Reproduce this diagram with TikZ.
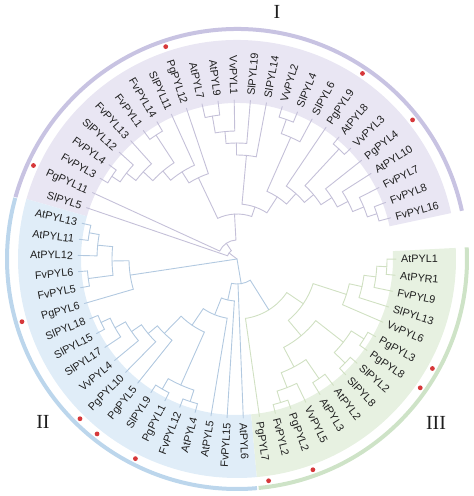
\documentclass[tikz,border=0pt]{standalone}
\usepackage{fontspec}
\setmainfont{Liberation Sans}
\newfontfamily\romanfont{Liberation Serif}
\definecolor{fillI}{RGB}{233,230,243}
\definecolor{fillII}{RGB}{224,237,248}
\definecolor{fillIII}{RGB}{231,241,225}
\definecolor{arcI}{RGB}{200,195,226}
\definecolor{arcII}{RGB}{188,214,236}
\definecolor{arcIII}{RGB}{206,227,199}
\definecolor{treeI}{RGB}{196,192,216}
\definecolor{treeII}{RGB}{178,201,224}
\definecolor{treeIII}{RGB}{208,224,194}
\definecolor{dotred}{RGB}{214,56,58}
\definecolor{labtext}{RGB}{30,30,30}
\newcommand\defnode[3]{\expandafter\xdef\csname tang#1\endcsname{#2}\expandafter\xdef\csname trad#1\endcsname{#3}}
\newcommand\mkclade[4]{%
  \edef\tka{\csname tang#3\endcsname}%
  \edef\tkb{\csname tang#4\endcsname}%
  \edef\tra{\csname trad#3\endcsname}%
  \edef\trb{\csname trad#4\endcsname}%
  \draw (\tka:\tra pt) -- (\tka:#2pt) arc[start angle=\tka,end angle=\tkb,radius=#2pt] -- (\tkb:\trb pt);%
  \pgfmathsetmacro\tkm{(\tka+\tkb)/2}%
  \defnode{#1}{\tkm}{#2}%
}
\begin{document}
\begin{tikzpicture}[x=1pt,y=1pt,
  lab/.style={inner sep=0pt,text height=7.8pt,text depth=0pt,font=\fontsize{10.8}{12}\selectfont,text=labtext},
  roman/.style={inner sep=0pt,font=\romanfont\fontsize{20}{20}\selectfont,text=labtext},
  ring/.style={line width=4pt},
  branch/.style={line width=0.9pt,line cap=round}]
\useasboundingbox (-237,-237) rectangle (237,259);
% shaded sectors
\fill[fillI] (12.1:156pt) arc[start angle=12.1,end angle=164.1,radius=156pt] -- (164.1:219pt) arc[start angle=164.1,end angle=12.1,radius=219pt] -- cycle;
\fill[fillII] (164.1:156pt) arc[start angle=164.1,end angle=275.2,radius=156pt] -- (275.2:219pt) arc[start angle=275.2,end angle=164.1,radius=219pt] -- cycle;
\fill[fillIII] (275.2:156pt) arc[start angle=275.2,end angle=362.9,radius=156pt] -- (362.9:219pt) arc[start angle=362.9,end angle=275.2,radius=219pt] -- cycle;
% outer arcs
\draw[ring,arcI] (12.1:230pt) arc[start angle=12.1,end angle=164.4,radius=230pt];
\draw[ring,arcII] (164.6:230pt) arc[start angle=164.6,end angle=275.0,radius=230pt];
\draw[ring,arcIII] (275.4:230pt) arc[start angle=275.4,end angle=362.9,radius=230pt];
% red dots
\foreach \i in {4,7,16,24,31,36,37,39,45,47,53,54}
  \fill[dotred] ({15+\i*5.847}:224pt) circle (2.4pt);
% leaves
\foreach \i in {0,...,59}{\pgfmathsetmacro\tla{15+\i*5.847}\defnode{L\i}{\tla}{159}}
% group I tree
\begin{scope}[branch,draw=treeI]
\mkclade{R1}{147}{L0}{L1}
\mkclade{R2}{137}{R1}{L2}
\mkclade{R3}{125}{R2}{L3}
\mkclade{R4}{113}{R3}{L4}
\mkclade{R5}{150}{L5}{L6}
\mkclade{R6}{100}{R4}{R5}
\mkclade{R7}{88}{R6}{L7}
\mkclade{S1}{148}{L9}{L10}
\mkclade{S2}{133}{L8}{S1}
\mkclade{R8}{74}{R7}{S2}
\mkclade{T1}{145}{L14}{L15}
\mkclade{T2}{128}{L13}{T1}
\mkclade{T3}{116}{L12}{T2}
\mkclade{T4}{104}{L11}{T3}
\mkclade{R9}{55}{R8}{T4}
\mkclade{K1}{150}{L22}{L23}
\mkclade{K2}{140}{L21}{K1}
\mkclade{K3}{128}{L20}{K2}
\mkclade{K4}{148}{L18}{L19}
\mkclade{K5}{115}{K4}{K3}
\mkclade{K6}{103}{L17}{K5}
\mkclade{K7}{90}{L16}{K6}
\mkclade{X}{45}{R9}{K7}
\mkclade{Y}{19}{X}{L24}
\mkclade{Z}{10}{Y}{L25}
\edef\tka{\csname tangZ\endcsname}
\draw (0,0) -- (\tka:10pt);
\end{scope}
% group III tree
\begin{scope}[branch,draw=treeIII]
\mkclade{G1}{150}{L58}{L59}
\mkclade{G2}{140}{L57}{G1}
\mkclade{G3}{128}{L56}{G2}
\mkclade{G4}{115}{L55}{G3}
\mkclade{G5}{150}{L53}{L54}
\mkclade{G6}{150}{L51}{L52}
\mkclade{G7}{135}{G6}{G5}
\mkclade{H1}{150}{L46}{L47}
\mkclade{H2}{138}{H1}{L48}
\mkclade{H3}{145}{L49}{L50}
\mkclade{H4}{122}{H2}{H3}
\mkclade{H5}{100}{H4}{G7}
\mkclade{H6}{80}{H5}{G4}
\mkclade{Gt}{60}{L45}{H6}
\end{scope}
% group II tree
\begin{scope}[branch,draw=treeII]
\mkclade{U1}{150}{L26}{L27}
\mkclade{U2}{140}{U1}{L28}
\mkclade{U3}{150}{L29}{L30}
\mkclade{W}{125}{U2}{U3}
\mkclade{U5}{108}{W}{L31}
\mkclade{P1}{150}{L32}{L33}
\mkclade{P2}{140}{P1}{L34}
\mkclade{P3}{128}{P2}{L35}
\mkclade{P4}{116}{P3}{L36}
\mkclade{P5}{104}{P4}{L37}
\mkclade{Q1}{150}{L38}{L39}
\mkclade{Q2}{150}{L40}{L41}
\mkclade{Q3}{138}{Q1}{Q2}
\mkclade{PP}{80}{P5}{Q3}
\mkclade{F}{60}{PP}{L42}
\mkclade{E}{42}{F}{L43}
\mkclade{D}{25}{E}{Gt}
\edef\tka{\csname tangL44\endcsname}
\draw (\tka:25pt) -- (\tka:159pt);
\edef\tka{\csname tangU5\endcsname}
\draw (0,0) -- (\tka:108pt);
\edef\tka{\csname tangD\endcsname}
\draw (0,0) -- (\tka:25pt);
\end{scope}
% labels
\foreach \i/\nm in {0/FvPYL16,1/FvPYL8,2/FvPYL7,3/AtPYL10,4/PgPYL4,5/VvPYL3,6/AtPYL8,7/PgPYL9,8/SlPYL6,9/SlPYL4,10/VvPYL2,11/SlPYL14,12/SlPYL19,13/VvPYL1,14/AtPYL9,15/AtPYL7,16/PgPYL12,17/SlPYL11,18/FvPYL14,19/FvPYL1,20/FvPYL13,21/SlPYL12,22/FvPYL4,23/FvPYL3,24/PgPYL11,25/SlPYL5,26/AtPYL13,27/AtPYL11,28/AtPYL12,29/FvPYL6,30/FvPYL5,31/PgPYL6,32/SlPYL18,33/SlPYL15,34/SlPYL17,35/VvPYL4,36/PgPYL10,37/PgPYL5,38/SlPYL9,39/PgPYL1,40/FvPYL12,41/AtPYL4,42/AtPYL5,43/FvPYL15,44/AtPYL6,45/PgPYL7,46/FvPYL2,47/PgPYL2,48/VvPYL5,49/AtPYL3,50/AtPYL2,51/SlPYL8,52/SlPYL2,53/PgPYL8,54/PgPYL3,55/VvPYL6,56/SlPYL13,57/FvPYL9,58/AtPYR1,59/AtPYL1}{%
  \pgfmathsetmacro\la{15+\i*5.847}%
  \pgfmathtruncatemacro\flip{(\la>90)&&(\la<270)}%
  \ifnum\flip=1
    \node[lab,anchor=east,rotate=\la-180] (lab\i) at (\la:164pt) {\nm};
  \else
    \node[lab,anchor=west,rotate=\la] (lab\i) at (\la:164pt) {\nm};
  \fi
}
% group numerals
\node[roman] (gI) at (40,247) {I};
\node[roman] (gII) at (-194,-163) {II};
\node[roman] (gIII) at (199,-164) {III};
\end{tikzpicture}
\end{document}
